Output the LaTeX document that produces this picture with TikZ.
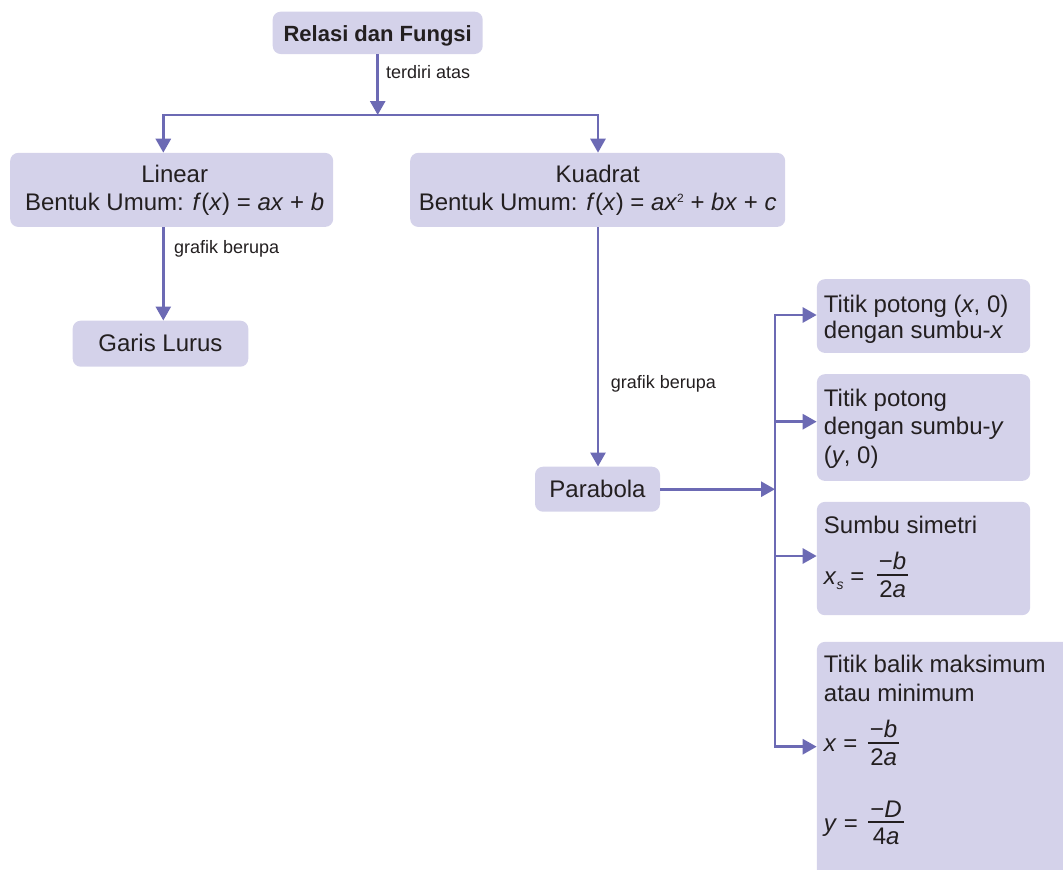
\documentclass[tikz,border=0pt]{standalone}
\usepackage{fontspec}
\setmainfont{Liberation Sans}
\usetikzlibrary{arrows.meta}
\definecolor{boxfill}{RGB}{212,210,234}
\definecolor{linec}{RGB}{108,106,180}
\definecolor{txtc}{RGB}{35,31,32}
\newlength\rbw
\newcommand\lftline[2]{\kern#1pt\hbox to\rbw{\smash{#2}\hss}}
\newcommand\ctrline[2]{\kern#1pt\hbox to\rbw{\hss\smash{#2}\hss}}
\newcommand\myfr[2]{\raisebox{3pt}{$\vcenter{\offinterlineskip\halign{\hfil\kern2pt##\kern2pt\hfil\cr #1\cr\noalign{\kern4pt\hrule height 2pt\kern5pt}#2\cr}}$}}
\newcommand\smsup[1]{\raisebox{8pt}{\fontsize{12}{12}\selectfont #1}}
\newcommand\smsub[1]{\raisebox{-5pt}{\fontsize{14}{14}\selectfont #1}}
\tikzset{mytip/.tip={Triangle[length=14pt,width=15pt]}}
\begin{document}
\begin{tikzpicture}[x=1pt,y=-1pt,
  every node/.style={text=txtc, font=\fontsize{24}{29}\selectfont},
  box/.style={fill=boxfill, rounded corners=8pt, inner sep=0pt},
  rbox/.style={box, anchor=north west, inner xsep=7pt, inner ysep=0pt},
  ln/.style={draw=linec, line width=2.8pt},
  arr/.style={ln, -mytip},
  both/.style={ln, mytip-mytip},
  lbl/.style={anchor=base west, inner sep=0pt, font=\fontsize{18}{22}\selectfont}]
\useasboundingbox (0,0) rectangle (1063,870);

\node[box, minimum width=210pt, minimum height=42.3pt, text height=17.7pt, text depth=0pt, font=\fontsize{22}{26}\selectfont\bfseries] (root) at (377.7,32.85) {Relasi dan Fungsi};

\node[box, anchor=north west] (lin) at (10,152.7) {\rbw=323pt\relax\vbox{\offinterlineskip\ctrline{29.8}{\kern6pt Linear}\ctrline{27.5}{\kern6pt Bentuk Umum: \textit{f}(\textit{x}) = \textit{ax} + \textit{b}}\kern16.7pt}};

\node[box, anchor=north west] (kua) at (410,152.7) {\rbw=375pt\relax\vbox{\offinterlineskip\ctrline{29.8}{Kuadrat}\ctrline{27.5}{Bentuk Umum: \textit{f}(\textit{x}) = \textit{ax}\smsup{2} + \textit{bx} + \textit{c}}\kern16.7pt}};

\node[box, minimum width=175.6pt, minimum height=46pt, text height=16pt, text depth=0pt] (gar) at (160.5,343.7) {Garis Lurus};
\node[box, minimum width=125pt, minimum height=45pt, text height=16.2pt, text depth=0pt] (par) at (597.5,489.2) {Parabola};

\node[rbox] (b1) at (816.7,279) {\rbw=199.3pt\relax\vbox{\offinterlineskip\lftline{33}{Titik potong (\textit{x}, 0)}\lftline{26}{dengan sumbu-\textit{x}}\kern14.7pt}};
\node[rbox] (b2) at (816.7,374) {\rbw=199.3pt\relax\vbox{\offinterlineskip\lftline{32}{Titik potong}\lftline{28}{dengan sumbu-\textit{y}}\lftline{29}{(\textit{y}, 0)}\kern17.7pt}};
\node[rbox] (b3) at (816.7,501.7) {\rbw=199.3pt\relax\vbox{\offinterlineskip\lftline{31.3}{Sumbu simetri}\lftline{51}{\textit{x}\smsub{\textit{s}} = \hspace{6pt}\myfr{−\textit{b}}{2\textit{a}}}\kern31pt}};
\node[rbox] (b4) at (816.7,641.7) {\rbw=286pt\relax\vbox{\offinterlineskip\lftline{31}{Titik balik maksimum}\lftline{29}{atau minimum}\lftline{50}{\textit{x} = \hspace{4pt}\myfr{−\textit{b}}{2\textit{a}}}\lftline{80}{\textit{y} = \hspace{4pt}\myfr{−\textit{D}}{4\textit{a}}}\kern60pt}};

\coordinate (jl) at (163.3,115);
\coordinate (jr) at (598,115);
\coordinate (s1) at (775,315);
\coordinate (s2) at (775,421.7);
\coordinate (s3) at (775,556);
\coordinate (s4) at (775,746.7);

\draw[arr] (root.south) -- (root.south |- jl);
\draw[both] (jl |- lin.north) -- (jl) -- (jr) -- (jr |- kua.north);
\draw[arr] (jl |- lin.south) -- (jl |- gar.north);
\draw[arr] (jr |- kua.south) -- (jr |- par.north);
\draw[arr] (par.east) -- (par.east -| s1);
\draw[both] (s1 -| b1.west) -- (s1) -- (s4) -- (s4 -| b4.west);
\draw[arr] (s2) -- (s2 -| b2.west);
\draw[arr] (s3) -- (s3 -| b3.west);

\node[lbl] (t1) at (386,78) {terdiri atas};
\node[lbl] (t2) at (174,253) {grafik berupa};
\node[lbl] (t3) at (610.7,388) {grafik berupa};
\end{tikzpicture}
\end{document}
